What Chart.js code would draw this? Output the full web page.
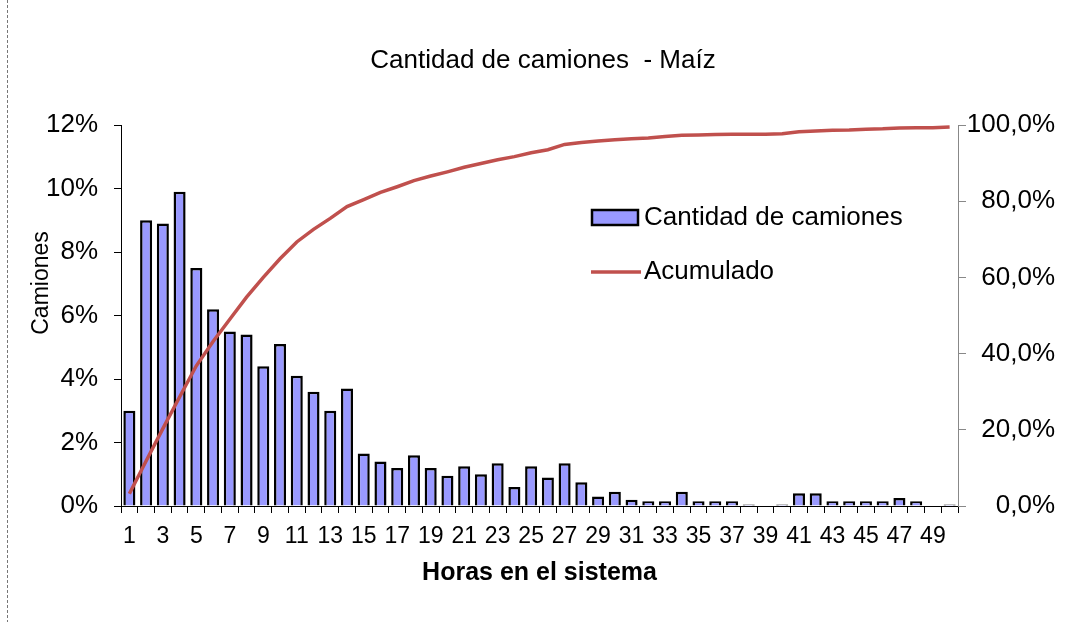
<!DOCTYPE html>
<html>
<head>
<meta charset="utf-8">
<script src="https://cdn.jsdelivr.net/npm/chart.js@4/dist/chart.umd.min.js"></script>
<style>
  body { margin: 0; background: #fff; }
  #wrap { width: 1071px; height: 622px; }
</style>
</head>
<body>
<div id="wrap"><canvas id="paretoChart" width="1071" height="622"></canvas></div>
<script>
var horas = [1, 2, 3, 4, 5, 6, 7, 8, 9, 10, 11, 12, 13, 14, 15, 16, 17, 18, 19, 20,
    21, 22, 23, 24, 25, 26, 27, 28, 29, 30, 31, 32, 33, 34, 35, 36, 37, 38, 39, 40,
    41, 42, 43, 44, 45, 46, 47, 48, 49, 50];

// % de camiones por hora en el sistema
var camiones = [3.0, 9.0, 8.9, 9.9, 7.5, 6.2, 5.5, 5.4, 4.4, 5.1,
    4.1, 3.6, 3.0, 3.7, 1.65, 1.4, 1.2, 1.6, 1.2, 0.95,
    1.25, 1.0, 1.35, 0.6, 1.25, 0.9, 1.35, 0.75, 0.3, 0.45,
    0.2, 0.15, 0.15, 0.45, 0.15, 0.15, 0.15, 0.05, 0, 0.05,
    0.4, 0.4, 0.15, 0.15, 0.15, 0.15, 0.25, 0.15, 0, 0.05];

// acumulado (%)
var acumulado = [3.2, 11.8, 20.3, 28.6, 36.8, 43.2, 49.0, 54.8, 60.0, 64.9,
    69.3, 72.6, 75.5, 78.6, 80.4, 82.3, 83.8, 85.4, 86.6, 87.7,
    88.9, 89.9, 90.9, 91.7, 92.7, 93.5, 94.9, 95.4, 95.8, 96.1,
    96.4, 96.6, 97.0, 97.3, 97.4, 97.5, 97.6, 97.6, 97.6, 97.7,
    98.2, 98.4, 98.6, 98.7, 98.9, 99.0, 99.2, 99.3, 99.3, 99.5];

var leftTicks = [0, 2, 4, 6, 8, 10, 12];
var rightTicks = [0, 20, 40, 60, 80, 100];

var fontFamily = "'Liberation Sans', Arial, sans-serif";
var barcolor = "#9999FF";
var linecolor = "#C0504D";

// title, legend inside plot, rotated y title, dashed frame line
var extrasPlugin = {
    id: 'extras',
    afterDraw: function (chart) {
        var ctx = chart.ctx;
        ctx.save();

        // dashed border on the left
        ctx.strokeStyle = '#777';
        ctx.lineWidth = 1;
        ctx.setLineDash([3, 2]);
        ctx.beginPath();
        ctx.moveTo(7.5, 0);
        ctx.lineTo(7.5, 622);
        ctx.stroke();
        ctx.setLineDash([]);

        ctx.fillStyle = '#000';
        ctx.textBaseline = 'middle';

        // title
        ctx.font = '26px ' + fontFamily;
        ctx.textAlign = 'center';
        ctx.fillText('Cantidad de camiones  - Maíz', 543, 61);

        // y title
        ctx.font = '23px ' + fontFamily;
        ctx.translate(42, 283);
        ctx.rotate(-Math.PI / 2);
        ctx.fillText('Camiones', 0, 0);
        ctx.setTransform(1, 0, 0, 1, 0, 0);

        // legend
        var ds = chart.data.datasets;
        ctx.font = '26px ' + fontFamily;
        ctx.textAlign = 'left';
        ctx.fillStyle = barcolor;
        ctx.fillRect(592, 210, 46, 15);
        ctx.strokeStyle = '#000';
        ctx.lineWidth = 2.5;
        ctx.strokeRect(592, 210, 46, 15);
        ctx.fillStyle = '#000';
        ctx.fillText(ds[1].label, 644, 218);

        ctx.strokeStyle = linecolor;
        ctx.lineWidth = 3.5;
        ctx.beginPath();
        ctx.moveTo(591, 272);
        ctx.lineTo(641, 272);
        ctx.stroke();
        ctx.fillText(ds[0].label, 644, 272);
        ctx.restore();
    }
};

const ctxChart = document.getElementById('paretoChart');
new Chart(ctxChart, {
    type: 'bar',
    data: {
        labels: horas,
        datasets: [{
            type: 'line',
            label: 'Acumulado',
            data: acumulado,
            yAxisID: 'y1',
            borderColor: linecolor,
            borderWidth: 3.5,
            pointRadius: 0,
            tension: 0,
            order: 0
        }, {
            type: 'bar',
            label: 'Cantidad de camiones',
            data: camiones,
            yAxisID: 'y',
            backgroundColor: barcolor,
            borderColor: '#000',
            borderWidth: 2.5,
            barPercentage: 0.72,
            categoryPercentage: 1,
            order: 1
        }]
    },
    options: {
        responsive: false,
        animation: false,
        devicePixelRatio: 1,
        layout: { padding: { left: 0, right: 16, top: 125, bottom: 0 } },
        plugins: {
            legend: { display: false },
            tooltip: { enabled: false },
            title: { display: false }
        },
        scales: {
            x: {
                offset: true,
                afterFit: function (scale) { scale.height = 116; },
                grid: {
                    offset: true,
                    drawOnChartArea: false,
                    drawTicks: true,
                    tickLength: 7,
                    color: '#000'
                },
                border: { color: '#000', width: 1 },
                ticks: {
                    autoSkip: false,
                    maxRotation: 0,
                    color: '#000',
                    padding: 10,
                    font: { family: fontFamily, size: 23 },
                    callback: function (value, index) {
                        return index % 2 === 0 ? horas[index] : '';
                    }
                },
                title: {
                    display: true,
                    text: 'Horas en el sistema',
                    color: '#000',
                    font: { family: fontFamily, size: 25, weight: 'bold' },
                    padding: { top: 0, bottom: 34 }
                }
            },
            y: {
                position: 'left',
                min: 0,
                max: 12,
                afterFit: function (scale) { scale.width = 121; },
                afterBuildTicks: function (scale) {
                    scale.ticks = leftTicks.map(function (v) { return { value: v }; });
                },
                grid: {
                    drawOnChartArea: false,
                    drawTicks: true,
                    tickLength: 7,
                    color: '#000'
                },
                border: { color: '#000', width: 1 },
                ticks: {
                    color: '#000',
                    padding: 16,
                    font: { family: fontFamily, size: 26 },
                    callback: function (value) { return value + '%'; }
                }
            },
            y1: {
                position: 'right',
                min: 0,
                max: 100,
                afterFit: function (scale) { scale.width = 97; },
                afterBuildTicks: function (scale) {
                    scale.ticks = rightTicks.map(function (v) { return { value: v }; });
                },
                grid: {
                    drawOnChartArea: false,
                    drawTicks: true,
                    tickLength: 8,
                    color: '#888'
                },
                border: { color: '#888', width: 1 },
                ticks: {
                    color: '#000',
                    crossAlign: 'far',
                    font: { family: fontFamily, size: 26 },
                    callback: function (value) {
                        return value.toFixed(1).replace('.', ',') + '%';
                    }
                }
            }
        }
    },
    plugins: [extrasPlugin]
});
</script>
</body>
</html>
